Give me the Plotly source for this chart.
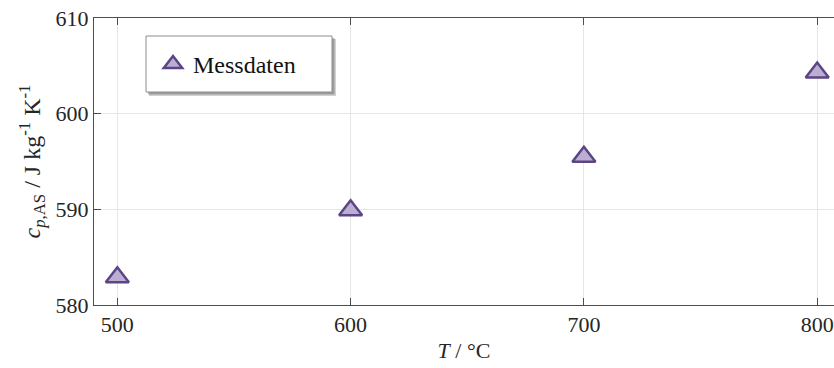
import plotly.graph_objects as go

# Data
temperature = [500, 600, 700, 800]
cp_values = [582.9, 589.9, 595.5, 604.3]
x_ticks = [500, 600, 700, 800]
y_ticks = [580, 590, 600, 610]
series_name = "Messdaten"

W, H = 834, 368
ML, MR, MT, MB = 94, 0, 18, 63
PW, PH = W - ML - MR, H - MT - MB

def px_x(p):
    return (p - ML) / PW

def px_y(p):
    return (H - MB - p) / PH

FONT = "Times New Roman, Liberation Serif, Tinos, serif"
TXT = "#262626"
AX = "#4d4d4d"

fig = go.Figure()
fig.add_trace(go.Scatter(
    x=temperature, y=cp_values, mode="markers", name=series_name,
    marker=dict(symbol="triangle-up", size=20, color="#bcaed3",
                line=dict(color="#5b4585", width=2.5)),
))

# Legend box with shadow (MATLAB-like)
shapes = [
    dict(type="rect", xref="paper", yref="paper",
         x0=px_x(149), x1=px_x(336), y0=px_y(96), y1=px_y(39),
         fillcolor="rgba(0,0,0,0.18)", line=dict(width=0), layer="above"),
    dict(type="rect", xref="paper", yref="paper",
         x0=px_x(148), x1=px_x(334.5), y0=px_y(94.5), y1=px_y(38),
         fillcolor="rgba(0,0,0,0.25)", line=dict(width=0), layer="above"),
    dict(type="rect", xref="paper", yref="paper",
         x0=px_x(146), x1=px_x(332), y0=px_y(92), y1=px_y(36),
         fillcolor="white", line=dict(color="#8c8c8c", width=1), layer="above"),
]

fig.update_layout(
    width=W, height=H,
    margin=dict(l=ML, r=MR, t=MT, b=MB),
    paper_bgcolor="white", plot_bgcolor="white",
    font=dict(family=FONT, size=22, color=TXT),
    showlegend=True,
    legend=dict(x=px_x(153), y=px_y(42), xanchor="left", yanchor="top",
                bgcolor="rgba(0,0,0,0)", borderwidth=0,
                font=dict(family=FONT, size=24, color="#111111")),
    shapes=shapes,
    xaxis=dict(
        range=[490, 807.2], tickvals=x_ticks, ticktext=[str(v) for v in x_ticks],
        showgrid=True, gridcolor="#e6e6e6", gridwidth=1,
        zeroline=False, showline=True, linecolor=AX, linewidth=1,
        mirror="ticks", ticks="inside", ticklen=7, tickcolor=AX,
        tickfont=dict(family=FONT, size=22, color=TXT),
        title=dict(text="<i>T</i> / °C", font=dict(family=FONT, size=22, color=TXT), standoff=6),
    ),
    yaxis=dict(
        range=[580, 610], tickvals=y_ticks, ticktext=[str(v) for v in y_ticks],
        showgrid=True, gridcolor="#e6e6e6", gridwidth=1,
        zeroline=False, showline=True, linecolor=AX, linewidth=1,
        ticks="inside", ticklen=7, tickcolor=AX,
        tickfont=dict(family=FONT, size=22, color=TXT),
        title=dict(text="<i>c</i><sub><i>p</i>,AS</sub> / J kg<sup>-1</sup> K<sup>-1</sup>",
                   font=dict(family=FONT, size=24, color=TXT), standoff=8),
    ),
)

fig.write_html("out.html")
